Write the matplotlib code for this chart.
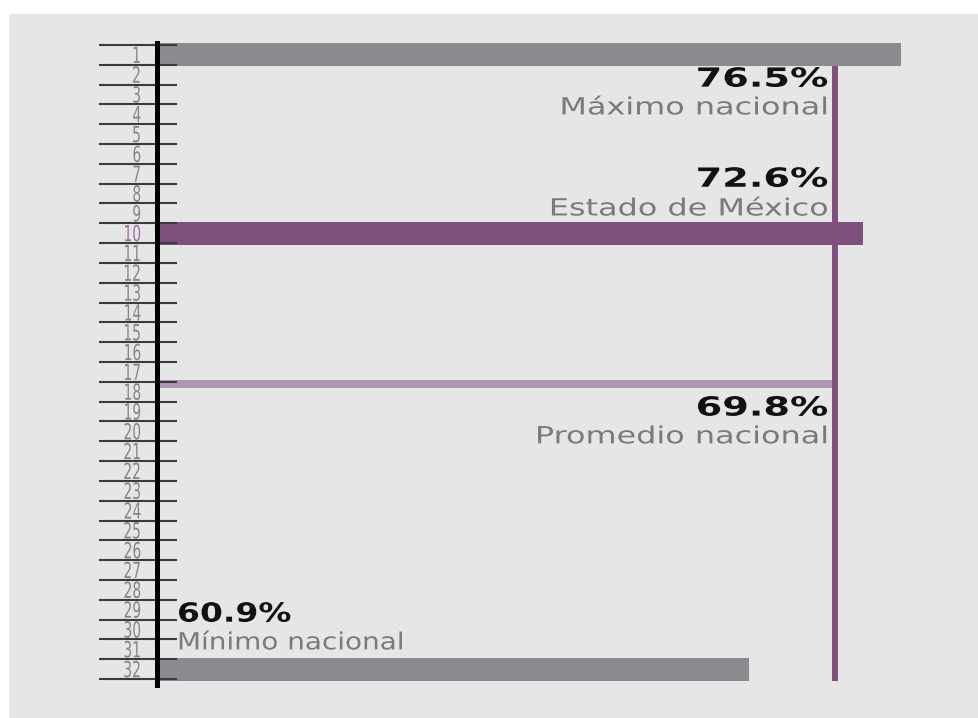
import numpy as np
import matplotlib
matplotlib.use("Agg")
import matplotlib.pyplot as plt
import matplotlib.patheffects as pe
from matplotlib.patches import Rectangle
from matplotlib.transforms import Affine2D

# Ranking of the 32 states, only the extremes, the state and the average are drawn
ranks = np.arange(1, 33)
bar_ranks = [1, 10, 32]
bar_values = [76.5, 72.6, 60.9]
bar_names = ["Máximo nacional", "Estado de México", "Mínimo nacional"]
avg_value = 69.8
avg_rank = 17.6
avg_name = "Promedio nacional"
state_rank = 10

GRAY = "#8a8b8e"
PURPLE = "#7e507e"
LIGHT_PURPLE = "#ae97ae"
PANEL = "#e6e6e6"


class Widen(pe.AbstractPathEffect):
    """Stretch the glyph outlines horizontally around one edge of the text."""

    def __init__(self, sx, anchor="left"):
        super().__init__()
        self.sx = sx
        self.anchor = anchor

    def draw_path(self, renderer, gc, tpath, affine, rgbFace=None):
        ext = tpath.get_extents(affine)
        x0 = ext.x1 if self.anchor == "right" else ext.x0
        affine = affine + Affine2D().translate(-x0, 0).scale(self.sx, 1).translate(x0, 0)
        renderer.draw_path(gc, tpath, affine, rgbFace)


fig = plt.figure(figsize=(9.79, 7.18), dpi=100)
fig.patch.set_facecolor("white")
fig.add_artist(Rectangle((9 / 979, 0), 1, (718 - 14) / 718, transform=fig.transFigure,
                         facecolor=PANEL, edgecolor="none", zorder=0))

ax = fig.add_axes([157 / 979, 33 / 718, 816.5 / 979, 642 / 718])
ax.set_facecolor("none")
ax.set_xlim(0, 84)
ax.set_ylim(32.8, 0.4)

bar_h = 1.15
colors = [PURPLE if r == state_rank else GRAY for r in bar_ranks]
ax.barh(bar_ranks, bar_values, height=bar_h, color=colors, zorder=1)
ax.barh(avg_rank, avg_value, height=0.4, color=LIGHT_PURPLE, zorder=1)
ax.vlines(avg_value, bar_ranks[0] + bar_h / 2, bar_ranks[-1] + bar_h / 2,
          color=PURPLE, lw=4.3, zorder=1)

# row separators crossing the axis line
bounds = np.arange(0.5, 33.5, 1)
ax.hlines(bounds, -0.071, 0.0245, transform=ax.get_yaxis_transform(),
          color="#383b3f", lw=1.5, clip_on=False, zorder=3)

for side in ["top", "right", "bottom"]:
    ax.spines[side].set_visible(False)
ax.spines["left"].set_color("black")
ax.spines["left"].set_linewidth(3.6)
ax.spines["left"].set_zorder(4)
ax.set_xticks([])
ax.set_yticks(ranks, [str(r) for r in ranks])
ax.tick_params(axis="y", length=0, pad=11, labelsize=16, labelcolor="#858585")
for lab in ax.get_yticklabels():
    lab.set_path_effects([Widen(0.62, "right")])
    if lab.get_text() == str(state_rank):
        lab.set_color("#9d6f9d")

val_kw = dict(fontsize=19, fontweight="bold", color="#111111")
name_kw = dict(fontsize=17, color="#7a7a7a")
right_x = avg_value - 0.75

# maximum and average: figures below the mark
for rank, value, name in [(bar_ranks[0], bar_values[0], bar_names[0]),
                          (avg_rank, avg_value, avg_name)]:
    ax.text(right_x, rank + 1.25, f"{value}%", ha="right", va="center",
            path_effects=[Widen(1.45, "right")], **val_kw)
    ax.text(right_x, rank + 2.65, name, ha="right", va="center",
            path_effects=[Widen(1.35, "right")], **name_kw)

# state: figures above the bar
ax.text(right_x, bar_ranks[1] - 2.7, f"{bar_values[1]}%", ha="right", va="center",
        path_effects=[Widen(1.45, "right")], **val_kw)
ax.text(right_x, bar_ranks[1] - 1.25, bar_names[1], ha="right", va="center",
        path_effects=[Widen(1.35, "right")], **name_kw)

# minimum: figures above the bar, on the left
ax.text(2.1, bar_ranks[2] - 2.75, f"{bar_values[2]}%", ha="left", va="center",
        path_effects=[Widen(1.25, "left")], **val_kw)
ax.text(2.1, bar_ranks[2] - 1.35, bar_names[2], ha="left", va="center",
        path_effects=[Widen(1.18, "left")], **name_kw)

fig.savefig("out.png", dpi=100, facecolor=fig.get_facecolor())
